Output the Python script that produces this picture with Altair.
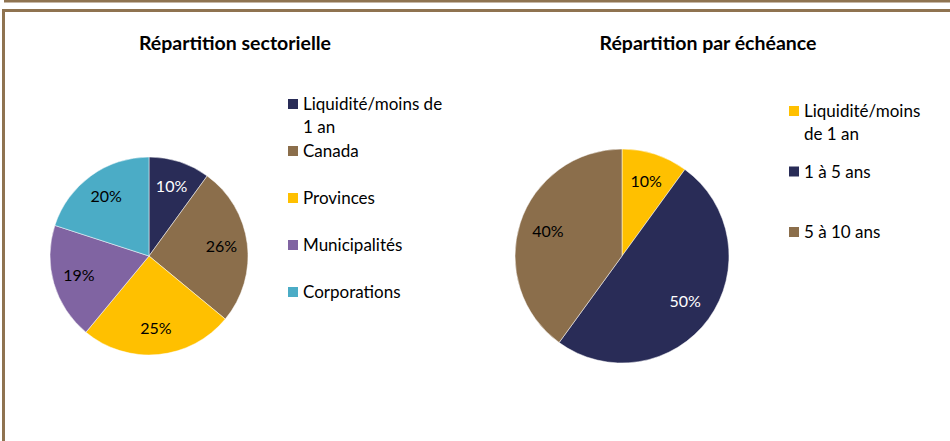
import altair as alt
import pandas as pd

# ---- data ----
sect_cats = ["Liquidité/moins de 1 an", "Canada", "Provinces", "Municipalités", "Corporations"]
sect_legend = ["Liquidité/moins de\n1 an", "Canada", "Provinces", "Municipalités", "Corporations"]
sect_vals = [10, 26, 25, 19, 20]
sect_colors = ["#292C57", "#8B6E4B", "#FFC000", "#8064A2", "#4BACC6"]
sect_label_colors = ["white", "black", "black", "black", "black"]

ech_cats = ["Liquidité/moins de 1 an", "1 à 5 ans", "5 à 10 ans"]
ech_legend = ["Liquidité/moins\nde 1 an", "1 à 5 ans", "5 à 10 ans"]
ech_vals = [10, 50, 40]
ech_colors = ["#FFC000", "#292C57", "#8B6E4B"]
ech_label_colors = ["black", "white", "black"]

titles = ["Répartition sectorielle", "Répartition par échéance"]

FONT = "Lato"
BORDER = "#8F7350"

df1 = pd.DataFrame({"cat": sect_cats, "val": sect_vals, "idx": range(len(sect_cats)),
                    "lab": [f"{v}%" for v in sect_vals], "tc": sect_label_colors,
                    "leg": sect_legend})
df2 = pd.DataFrame({"cat": ech_cats, "val": ech_vals, "idx": range(len(ech_cats)),
                    "lab": [f"{v}%" for v in ech_vals], "tc": ech_label_colors,
                    "leg": ech_legend})


def pie(df, cats, colors, cx, cy, r, lr):
    base = alt.Chart(df).encode(
        theta=alt.Theta("val:Q", stack=True),
        order=alt.Order("idx:Q"),
        x=alt.value(cx), y=alt.value(cy),
    )
    arc = base.mark_arc(radius=r, stroke="white", strokeWidth=0.5).encode(
        color=alt.Color("cat:N", scale=alt.Scale(domain=cats, range=colors), legend=None)
    )
    txt = base.mark_text(radius=lr, font=FONT, fontSize=16).encode(
        text="lab:N", color=alt.Color("tc:N", scale=None)
    )
    return [arc, txt]


def legend(df, cats, colors, sx, tx, y0, y1):
    n = len(cats)
    yenc = alt.Y("idx:O", axis=None,
                 scale=alt.Scale(type="point", domain=list(range(n)), range=[y0, y1], padding=0))
    sq = alt.Chart(df).mark_square(size=100, opacity=1).encode(
        x=alt.value(sx), y=yenc,
        color=alt.Color("cat:N", scale=alt.Scale(domain=cats, range=colors), legend=None),
    )
    tx_ = alt.Chart(df).mark_text(align="left", baseline="alphabetic", dy=6, font=FONT,
                                  fontSize=17, lineBreak="\n", lineHeight=23,
                                  color="black").encode(
        x=alt.value(tx), y=yenc, text="leg:N")
    return [sq, tx_]


one = pd.DataFrame({"d": [0]})
title1 = alt.Chart(one).mark_text(text=titles[0], font=FONT, fontSize=19.5, fontWeight="bold",
                                  color="black").encode(x=alt.value(235), y=alt.value(44))
title2 = alt.Chart(one).mark_text(text=titles[1], font=FONT, fontSize=19.5, fontWeight="bold",
                                  color="black").encode(x=alt.value(708), y=alt.value(44))

r_top = alt.Chart(one).mark_rule(color=BORDER, strokeWidth=3).encode(
    x=alt.value(4), x2=alt.value(950), y=alt.value(1))
r_top2 = alt.Chart(one).mark_rule(color=BORDER, strokeWidth=3).encode(
    x=alt.value(2), x2=alt.value(950), y=alt.value(10.5))
r_left = alt.Chart(one).mark_rule(color=BORDER, strokeWidth=3).encode(
    x=alt.value(3.5), y=alt.value(9), y2=alt.value(441))

layers = [r_top, r_top2, r_left, title1, title2]
layers += pie(df1, sect_cats, sect_colors, 149, 256, 99, 73)
layers += pie(df2, ech_cats, ech_colors, 622, 256, 107, 78)
layers += legend(df1, sect_cats, sect_colors, 293, 303, 104, 292)
layers += legend(df2, ech_cats, ech_colors, 794, 804, 111, 232)

chart = alt.layer(*layers).resolve_scale(
    color="independent", y="independent"
).properties(
    width=950, height=441, padding=0, autosize=alt.AutoSizeParams(type="none")
).configure_view(stroke=None)

chart.save("out.html", embed_options={"renderer": "svg", "actions": False})
